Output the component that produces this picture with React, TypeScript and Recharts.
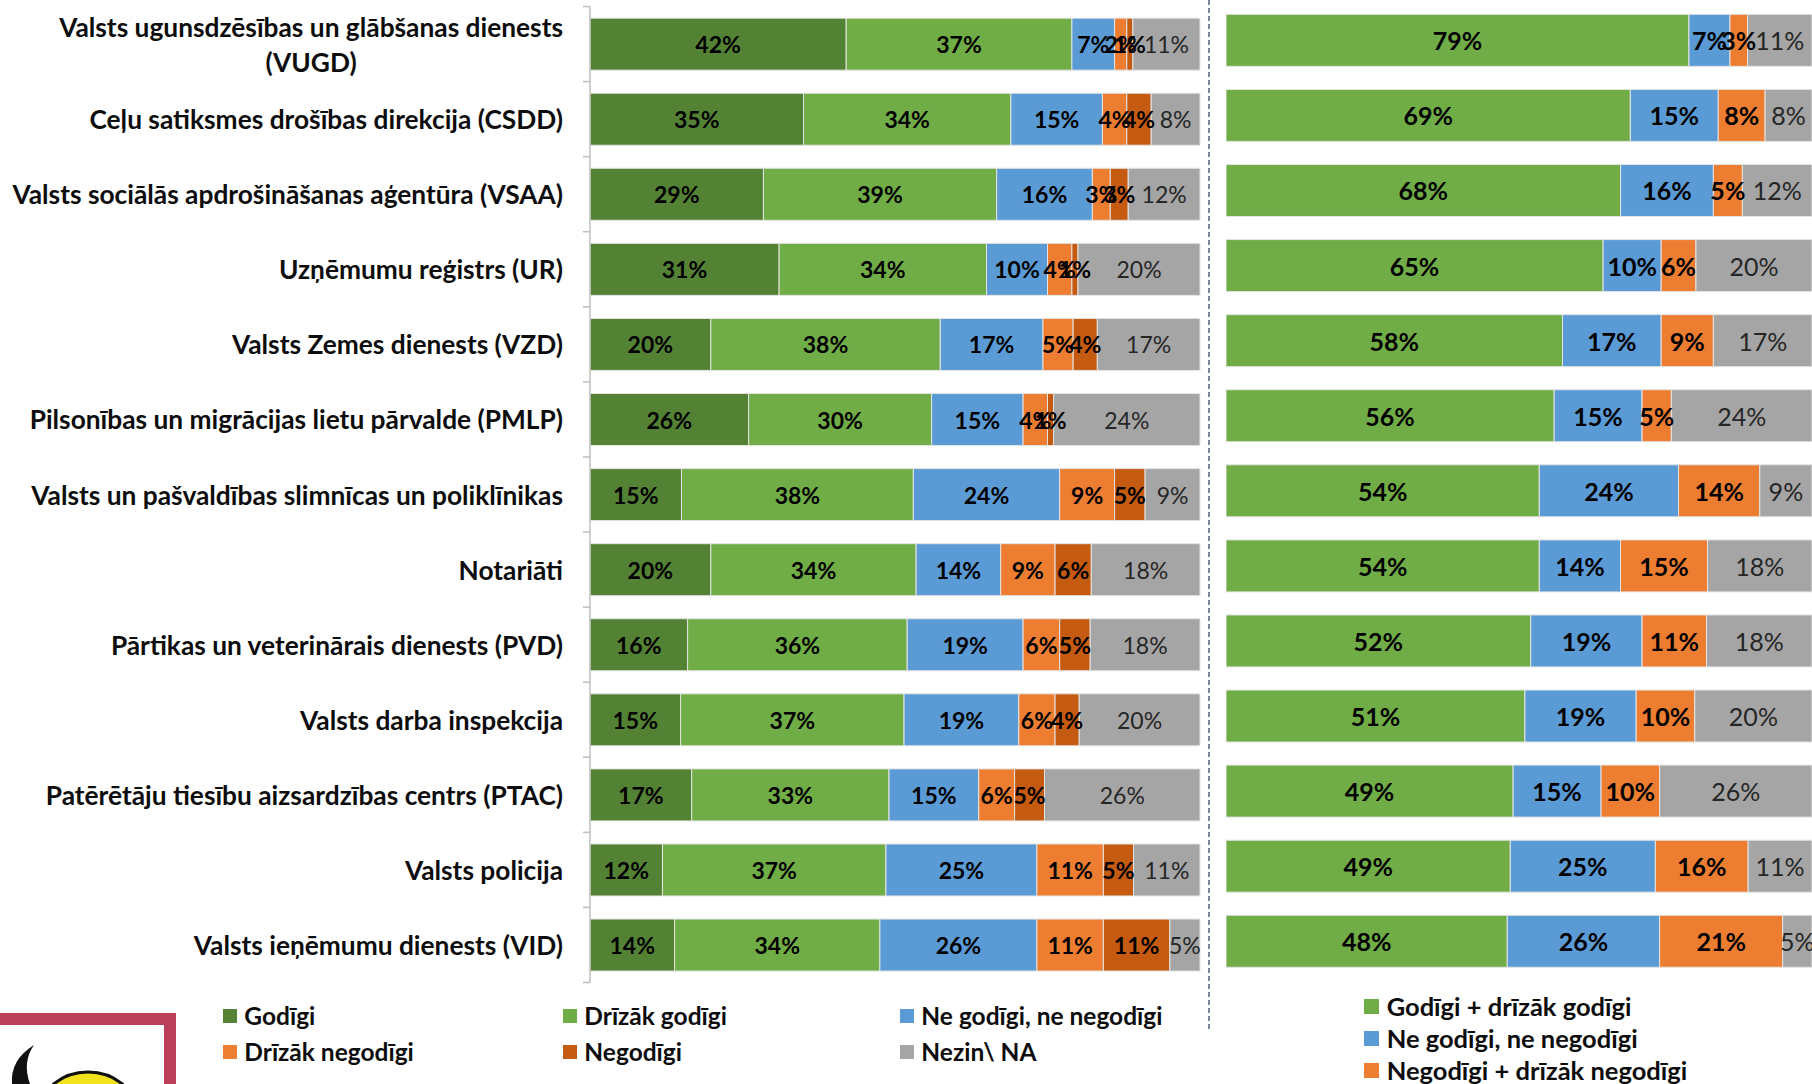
import { Bar, BarChart, LabelList, XAxis, YAxis } from "recharts"

const categories = [
    "Valsts ugunsdzēsības un glābšanas dienests\n(VUGD)",
    "Ceļu satiksmes drošības direkcija (CSDD)",
    "Valsts sociālās apdrošināšanas aģentūra (VSAA)",
    "Uzņēmumu reģistrs (UR)",
    "Valsts Zemes dienests (VZD)",
    "Pilsonības un migrācijas lietu pārvalde (PMLP)",
    "Valsts un pašvaldības slimnīcas un poliklīnikas",
    "Notariāti",
    "Pārtikas un veterinārais dienests (PVD)",
    "Valsts darba inspekcija",
    "Patērētāju tiesību aizsardzības centrs (PTAC)",
    "Valsts policija",
    "Valsts ieņēmumu dienests (VID)",
]

// left chart: detailed answers
const godigi = [42, 35, 29, 31, 20, 26, 15, 20, 16, 15, 17, 12, 14]
const drizakGodigi = [37, 34, 39, 34, 38, 30, 38, 34, 36, 37, 33, 37, 34]
const neNe = [7, 15, 16, 10, 17, 15, 24, 14, 19, 19, 15, 25, 26]
const drizakNegodigi = [2, 4, 3, 4, 5, 4, 9, 9, 6, 6, 6, 11, 11]
const negodigi = [1, 4, 3, 1, 4, 1, 5, 6, 5, 4, 5, 5, 11]
const nezin = [11, 8, 12, 20, 17, 24, 9, 18, 18, 20, 26, 11, 5]

// right chart: grouped answers
const kopaGodigi = [79, 69, 68, 65, 58, 56, 54, 54, 52, 51, 49, 49, 48]
const kopaNeNe = [7, 15, 16, 10, 17, 15, 24, 14, 19, 19, 15, 25, 26]
const kopaNegodigi = [3, 8, 5, 6, 9, 5, 14, 15, 11, 10, 10, 16, 21]
const kopaNezin = [11, 8, 12, 20, 17, 24, 9, 18, 18, 20, 26, 11, 5]

const leftSeries = [
    { key: "g", name: "Godīgi", color: "#548235", values: godigi, bold: true },
    { key: "dg", name: "Drīzāk godīgi", color: "#70ad47", values: drizakGodigi, bold: true },
    { key: "nn", name: "Ne godīgi, ne negodīgi", color: "#5b9bd5", values: neNe, bold: true },
    { key: "dn", name: "Drīzāk negodīgi", color: "#ed7d31", values: drizakNegodigi, bold: true },
    { key: "n", name: "Negodīgi", color: "#c55a11", values: negodigi, bold: true },
    { key: "na", name: "Nezin\\ NA", color: "#a5a5a5", values: nezin, bold: false },
]

const rightSeries = [
    { key: "kg", name: "Godīgi + drīzāk godīgi", color: "#70ad47", values: kopaGodigi, bold: true },
    { key: "knn", name: "Ne godīgi, ne negodīgi", color: "#5b9bd5", values: kopaNeNe, bold: true },
    { key: "kn", name: "Negodīgi + drīzāk negodīgi", color: "#ed7d31", values: kopaNegodigi, bold: true },
    { key: "kna", name: "Nezin\\ NA", color: "#a5a5a5", values: kopaNezin, bold: false },
]

const buildRows = (series: typeof leftSeries) =>
    categories.map((name, i) => {
        const row: Record<string, string | number> = { name }
        series.forEach((s) => (row[s.key] = s.values[i]))
        return row
    })

const leftData = buildRows(leftSeries)
const rightData = buildRows(rightSeries)

const FONT = "Lato, 'Open Sans', sans-serif"
const CAT_SIZE = 26.3
const PLOT_TOP = 6.5
const PLOT_H = 976
const BAND = PLOT_H / categories.length
const AXIS_X = 590
const LABEL_RIGHT = 563

let ctx: CanvasRenderingContext2D | null = null
const measure = (s: string, font: string) => {
    if (!ctx) ctx = document.createElement("canvas").getContext("2d")
    if (!ctx) return s.length * 12
    ctx.font = font
    return ctx.measureText(s).width
}

const CategoryTick = (props: any) => {
    const { y, payload, index } = props
    const lines = String(payload.value).split("\n")
    const top = y - BAND / 2
    const marks = [top]
    if (index === categories.length - 1) marks.push(y + BAND / 2)
    const style = { fontFamily: FONT, fontWeight: 700, fontSize: CAT_SIZE, fill: "#0d0d0d" }
    let textEls
    if (lines.length === 1) {
        textEls = (
            <text x={LABEL_RIGHT} y={y} textAnchor="end" dominantBaseline="central" {...style}>
                {lines[0]}
            </text>
        )
    } else {
        // two-line label: lines centred on each other, block right-aligned
        const w = measure(lines[0], `700 ${CAT_SIZE}px ${FONT}`)
        const cx = LABEL_RIGHT - w / 2
        textEls = (
            <>
                <text x={cx} y={y - 17} textAnchor="middle" dominantBaseline="central" {...style}>
                    {lines[0]}
                </text>
                <text x={cx} y={y + 18} textAnchor="middle" dominantBaseline="central" {...style}>
                    {lines[1]}
                </text>
            </>
        )
    }
    return (
        <g>
            {marks.map((m, i) => (
                <line key={i} x1={AXIS_X - 7} x2={AXIS_X} y1={m} y2={m} stroke="#bfbfbf" strokeWidth={1.5} />
            ))}
            {textEls}
        </g>
    )
}

const makeLabel = (bold: boolean, size: number) => (props: any) => {
    const { x, y, width, height, value } = props
    return (
        <text
            x={x + width / 2}
            y={y + height / 2}
            textAnchor="middle"
            dominantBaseline="central"
            fontFamily={FONT}
            fontWeight={bold ? 700 : 400}
            fontSize={size}
            fill={bold ? "#000" : "#262626"}
        >
            {value}%
        </text>
    )
}

const LegendItem = ({ left, top, color, text, size, box }: any) => (
    <div
        style={{
            position: "absolute",
            left,
            top: top - size * 0.7,
            height: size * 1.4,
            display: "flex",
            alignItems: "center",
            fontFamily: FONT,
            fontWeight: 700,
            fontSize: size,
            color: "#0d0d0d",
            whiteSpace: "nowrap",
        }}
    >
        <span style={{ width: box, height: box, background: color, display: "inline-block", marginRight: size * 0.3 }} />
        {text}
    </div>
)

const leftLegendPos = [
    { left: 223, top: 1016 },
    { left: 563, top: 1016 },
    { left: 900, top: 1016 },
    { left: 223, top: 1052 },
    { left: 563, top: 1052 },
    { left: 900, top: 1052 },
]

export default function App() {
    return (
        <div style={{ position: "absolute", left: 0, top: 0, width: 1812, height: 1084, background: "#fff", overflow: "hidden" }}>
            <div style={{ position: "absolute", left: 0, top: 0 }}>
                <BarChart
                    width={1205}
                    height={990}
                    data={leftData}
                    layout="vertical"
                    stackOffset="expand"
                    barCategoryGap="15.5%"
                    margin={{ top: PLOT_TOP, right: 5, bottom: 990 - PLOT_TOP - PLOT_H, left: 0 }}
                >
                    <XAxis type="number" hide domain={[0, 1]} />
                    <YAxis
                        type="category"
                        dataKey="name"
                        width={AXIS_X}
                        interval={0}
                        tickLine={false}
                        axisLine={{ stroke: "#bfbfbf", strokeWidth: 1.5 }}
                        tick={<CategoryTick />}
                    />
                    {leftSeries.map((s) => (
                        <Bar key={s.key} dataKey={s.key} name={s.name} stackId="a" fill={s.color} stroke="#e4e4e4" strokeWidth={1} isAnimationActive={false}>
                            <LabelList dataKey={s.key} content={makeLabel(s.bold, 23)} />
                        </Bar>
                    ))}
                </BarChart>
            </div>

            <div style={{ position: "absolute", left: 1226, top: 0 }}>
                <BarChart
                    width={586}
                    height={990}
                    data={rightData}
                    layout="vertical"
                    stackOffset="expand"
                    barCategoryGap="15.5%"
                    margin={{ top: 2.7, right: 0, bottom: 990 - 2.7 - PLOT_H, left: 0 }}
                >
                    <XAxis type="number" hide domain={[0, 1]} />
                    <YAxis type="category" dataKey="name" hide />
                    {rightSeries.map((s) => (
                        <Bar key={s.key} dataKey={s.key} name={s.name} stackId="b" fill={s.color} stroke="#e4e4e4" strokeWidth={1} isAnimationActive={false}>
                            <LabelList dataKey={s.key} content={makeLabel(s.bold, 25)} />
                        </Bar>
                    ))}
                </BarChart>
            </div>

            <svg width={1812} height={1084} style={{ position: "absolute", left: 0, top: 0, pointerEvents: "none" }}>
                <line x1={1209} x2={1209} y1={0} y2={1032} stroke="#7a8899" strokeWidth={2} strokeDasharray="5 3" />
                {/* logo corner */}
                <rect x={-20} y={1019} width={190} height={120} fill="none" stroke="#b94058" strokeWidth={12} />
                <path d="M 12 1084 Q 10 1060 34 1045 Q 22 1062 30 1084 Z" fill="#111" />
                <ellipse cx={88} cy={1112} rx={48} ry={40} fill="#f2e21c" stroke="#111" strokeWidth={3} />
            </svg>

            {leftSeries.map((s, i) => (
                <LegendItem key={s.key} left={leftLegendPos[i].left} top={leftLegendPos[i].top} color={s.color} text={s.name} size={24.5} box={14} />
            ))}
            {rightSeries.slice(0, 3).map((s, i) => (
                <LegendItem key={s.key} left={1364} top={1006.5 + i * 32} color={s.color} text={s.name} size={25.5} box={15} />
            ))}
        </div>
    )
}
